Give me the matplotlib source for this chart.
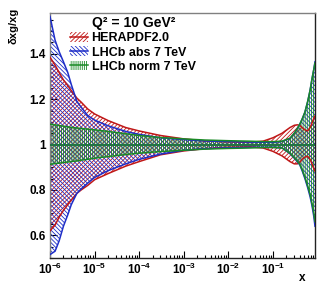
import matplotlib
matplotlib.use('Agg')
import matplotlib.pyplot as plt
from matplotlib.patches import Patch
from matplotlib.lines import Line2D
from matplotlib.ticker import MultipleLocator, LogLocator, NullFormatter
import numpy as np

plt.rcParams['font.family'] = ['Liberation Sans', 'DejaVu Sans']
plt.rcParams['font.weight'] = 'bold'
plt.rcParams['hatch.linewidth'] = 0.6

# ─── Data (relative uncertainty on xg, Q^2 = 10 GeV^2) ────────────────────────
x = [1e-6, 1.3e-6, 1.6e-6, 2e-6, 2.5e-6, 3e-6, 4e-6, 5e-6, 7e-6, 1e-5,
     2e-5, 5e-5, 1e-4, 3e-4, 1e-3, 3e-3, 1e-2, 3e-2, 0.06, 0.1,
     0.16, 0.24, 0.3, 0.35, 0.4, 0.45, 0.52, 0.6, 0.68, 0.75, 0.82, 0.875]

hera_up = [1.385, 1.35, 1.318, 1.285, 1.26, 1.238, 1.205, 1.187, 1.157, 1.135,
           1.106, 1.075, 1.06, 1.04, 1.025, 1.016, 1.012, 1.01, 1.015, 1.03,
           1.05, 1.075, 1.085, 1.087, 1.085, 1.075, 1.065, 1.06, 1.075, 1.095, 1.115, 1.126]
hera_lo = [0.62, 0.645, 0.68, 0.71, 0.735, 0.755, 0.785, 0.80, 0.82, 0.845,
           0.872, 0.905, 0.925, 0.955, 0.972, 0.982, 0.988, 0.99, 0.985, 0.97,
           0.95, 0.925, 0.915, 0.915, 0.922, 0.935, 0.945, 0.948, 0.935, 0.915, 0.895, 0.883]

abs_up = [1.565, 1.46, 1.41, 1.365, 1.318, 1.265, 1.19, 1.165, 1.128, 1.108,
          1.083, 1.058, 1.045, 1.03, 1.022, 1.016, 1.013, 1.011, 1.01, 1.01,
          1.014, 1.027, 1.05, 1.07, 1.09, 1.112, 1.143, 1.19, 1.24, 1.29, 1.33, 1.365]
abs_lo = [0.515, 0.53, 0.575, 0.64, 0.69, 0.735, 0.785, 0.805, 0.83, 0.855,
          0.885, 0.915, 0.935, 0.958, 0.975, 0.982, 0.986, 0.988, 0.988, 0.988,
          0.985, 0.96, 0.94, 0.925, 0.91, 0.885, 0.85, 0.81, 0.77, 0.73, 0.685, 0.64]

norm_up = [1.09, 1.087, 1.084, 1.081, 1.078, 1.076, 1.073, 1.071, 1.068, 1.065,
           1.058, 1.048, 1.04, 1.031, 1.025, 1.02, 1.017, 1.015, 1.013, 1.013,
           1.015, 1.028, 1.05, 1.07, 1.09, 1.112, 1.143, 1.19, 1.24, 1.29, 1.33, 1.36]
norm_lo = [0.913, 0.916, 0.918, 0.921, 0.923, 0.925, 0.928, 0.931, 0.935, 0.94,
           0.947, 0.956, 0.962, 0.969, 0.975, 0.98, 0.983, 0.985, 0.987, 0.987,
           0.985, 0.962, 0.942, 0.928, 0.913, 0.89, 0.856, 0.818, 0.78, 0.74, 0.7, 0.66]

central = [1.0] * len(x)

labels = ["HERAPDF2.0", "LHCb abs 7 TeV", "LHCb norm 7 TeV"]

# ─── Styles ───────────────────────────────────────────────────────────────────
C_RED   = "#c01818"
C_BLUE  = "#1e2ec8"
C_GREEN = "#1a8a26"

bands = [
    (hera_up, hera_lo, C_RED,   "/" * 8),
    (abs_up,  abs_lo,  C_BLUE,  "\\" * 8),
    (norm_up, norm_lo, C_GREEN, "|" * 8),
]

fig = plt.figure(figsize=(3.32, 2.88), dpi=100)
ax = fig.add_axes([50/332, 30/288, 265/332, 245/288])

for up, lo, col, hatch in bands:
    ax.fill_between(x, lo, up, facecolor='none', edgecolor=col,
                    linewidth=0, hatch=hatch, zorder=2)
for up, lo, col, hatch in bands:
    ax.plot(x, up, color=col, lw=1.1, zorder=3)
    ax.plot(x, lo, color=col, lw=1.1, zorder=3)
    ax.plot(x, central, color=col, lw=1.1, zorder=3)

ax.set_xscale('log')
ax.set_xlim(1e-6, 0.875)
ax.set_ylim(0.5, 1.58)

ax.yaxis.set_major_locator(MultipleLocator(0.2))
ax.yaxis.set_minor_locator(MultipleLocator(0.05))
ax.xaxis.set_major_locator(LogLocator(base=10, numticks=10))
ax.xaxis.set_minor_locator(LogLocator(base=10, subs=np.arange(2, 10), numticks=20))
ax.xaxis.set_minor_formatter(NullFormatter())
ax.yaxis.set_major_formatter(plt.FuncFormatter(lambda v, p: f"{v:g}"))

ax.tick_params(which='both', direction='in', top=False, right=False,
               labelsize=8.5, pad=3)
ax.tick_params(which='major', length=5, width=0.8)
ax.tick_params(which='minor', length=2.5, width=0.8)
for lab in ax.get_xticklabels() + ax.get_yticklabels():
    lab.set_fontweight('bold')

for side in ['top', 'left']:
    ax.spines[side].set_color('#808080')
for side in ['bottom', 'right']:
    ax.spines[side].set_color('#222222')
for s in ax.spines.values():
    s.set_linewidth(1.0)

# axis titles (ROOT style: at the ends of the axes)
fig.text(14/332, 1 - 8/288, "δxg/xg", rotation=90, ha='center', va='top',
         fontsize=8, fontweight='bold')
fig.text(302/332, 1 - 278/288, "x", ha='center', va='center',
         fontsize=8.5, fontweight='bold')

# ─── Legend ───────────────────────────────────────────────────────────────────
handles = [Line2D([], [], alpha=0)]
for up, lo, col, hatch in bands:
    handles.append((Patch(facecolor='none', edgecolor=col, linewidth=0, hatch=hatch),
                    Line2D([], [], color=col, lw=1.1)))
leg = ax.legend(handles, ["Q² = 10 GeV²"] + labels, loc='upper left',
                bbox_to_anchor=(0.058, 1.008), frameon=False,
                prop={'size': 9, 'weight': 'bold'},
                handlelength=1.45, handleheight=0.8, handletextpad=0.25,
                labelspacing=0.17, borderaxespad=0)
leg.get_texts()[0].set_fontsize(10)

fig.savefig("out.png", dpi=100)
